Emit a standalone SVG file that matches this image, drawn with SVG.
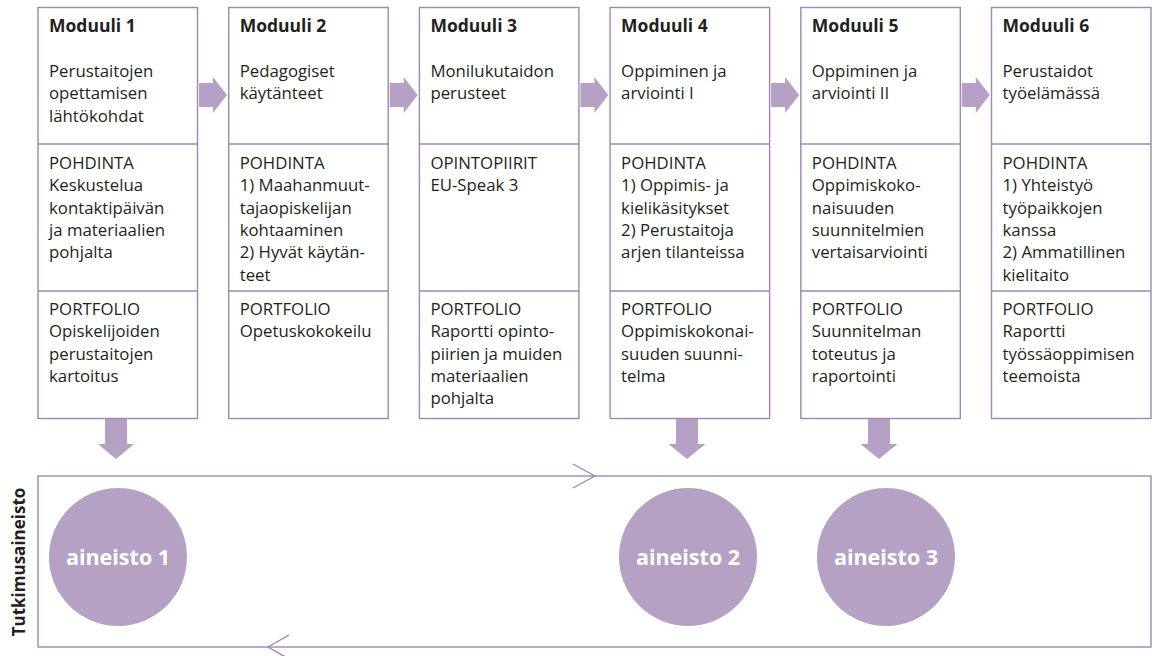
<svg xmlns="http://www.w3.org/2000/svg" width="1154" height="656" viewBox="0 0 1154 656">
<style>
.box{fill:#fff;stroke:#9d87b5;stroke-width:1.4}
.div{stroke:#9d87b5;stroke-width:1.4}
.t{font-family:"Open Sans","Liberation Sans",sans-serif;font-size:16.8px;fill:#231f20}
.b{font-weight:bold;font-size:17.5px}
.arr{fill:#b4a1c4}
.circ{fill:#b4a1c4}
.ct{font-family:"Open Sans","Liberation Sans",sans-serif;font-weight:bold;font-size:21.5px;fill:#fff;text-anchor:middle}
.ln{fill:none;stroke:#9d87b5;stroke-width:1.4}
</style>
<rect width="1154" height="656" fill="#fff"/>

<g id="research-frame">
  <rect class="box" x="38" y="476" width="1113" height="171"/>
  <text class="t" style="font-weight:bold;font-size:17px" text-anchor="middle" transform="translate(24.5,562) rotate(-90)">Tutkimusaineisto</text>
</g>

<g id="connectors">
  <!-- horizontal arrows between modules -->
  <path class="arr" d="M199 83H213V77L227 95L213 113V107H199Z"/>
  <path class="arr" d="M389.7 83H403.7V77L417.7 95L403.7 113V107H389.7Z"/>
  <path class="arr" d="M580.4 83H594.4V77L608.4 95L594.4 113V107H580.4Z"/>
  <path class="arr" d="M771.1 83H785.1V77L799.1 95L785.1 113V107H771.1Z"/>
  <path class="arr" d="M961.8 83H975.8V77L989.8 95L975.8 113V107H961.8Z"/>
  <!-- down arrows -->
  <path class="arr" d="M105 419H127V444H134L116 459L98 444H105Z"/>
  <path class="arr" d="M676 419H698V444H705.5L687 459L668.5 444H676Z"/>
  <path class="arr" d="M868 419H890V444H897.5L879 459L860.5 444H868Z"/>
  <!-- loop chevrons -->
  <path class="ln" d="M573 464L595 476L573 488"/>
  <path class="ln" d="M289 635L268 647L289 659"/>
</g>

<g id="aineisto1">
  <circle class="circ" cx="118" cy="557" r="69"/>
  <text class="ct" x="118" y="564.5">aineisto 1</text>
</g>
<g id="aineisto2">
  <circle class="circ" cx="688" cy="557" r="69"/>
  <text class="ct" x="688" y="564.5">aineisto 2</text>
</g>
<g id="aineisto3">
  <circle class="circ" cx="886" cy="557" r="69"/>
  <text class="ct" x="886" y="564.5">aineisto 3</text>
</g>

<g id="moduuli1">
  <rect class="box" x="38" y="7.5" width="159.5" height="411"/>
  <line class="div" x1="38" y1="144" x2="197.5" y2="144"/>
  <line class="div" x1="38" y1="291" x2="197.5" y2="291"/>
  <text class="t b" x="49" y="31.5">Moduuli 1</text>
  <text class="t" x="49" y="77">Perustaitojen</text>
  <text class="t" x="49" y="99.3">opettamisen</text>
  <text class="t" x="49" y="121.6">lähtökohdat</text>
  <text class="t" x="49" y="169">POHDINTA</text>
  <text class="t" x="49" y="191.3">Keskustelua</text>
  <text class="t" x="49" y="213.6">kontaktipäivän</text>
  <text class="t" x="49" y="235.9">ja materiaalien</text>
  <text class="t" x="49" y="258.2">pohjalta</text>
  <text class="t" x="49" y="315">PORTFOLIO</text>
  <text class="t" x="49" y="337.3">Opiskelijoiden</text>
  <text class="t" x="49" y="359.6">perustaitojen</text>
  <text class="t" x="49" y="381.9">kartoitus</text>
</g>

<g id="moduuli2">
  <rect class="box" x="228.7" y="7.5" width="159.5" height="411"/>
  <line class="div" x1="228.7" y1="144" x2="388.2" y2="144"/>
  <line class="div" x1="228.7" y1="291" x2="388.2" y2="291"/>
  <text class="t b" x="239.7" y="31.5">Moduuli 2</text>
  <text class="t" x="239.7" y="77">Pedagogiset</text>
  <text class="t" x="239.7" y="99.3">käytänteet</text>
  <text class="t" x="239.7" y="169">POHDINTA</text>
  <text class="t" x="239.7" y="191.3">1) Maahanmuut-</text>
  <text class="t" x="239.7" y="213.6">tajaopiskelijan</text>
  <text class="t" x="239.7" y="235.9">kohtaaminen</text>
  <text class="t" x="239.7" y="258.2">2) Hyvät käytän-</text>
  <text class="t" x="239.7" y="280.5">teet</text>
  <text class="t" x="239.7" y="315">PORTFOLIO</text>
  <text class="t" x="239.7" y="337.3">Opetuskokokeilu</text>
</g>

<g id="moduuli3">
  <rect class="box" x="419.4" y="7.5" width="159.5" height="411"/>
  <line class="div" x1="419.4" y1="144" x2="578.9" y2="144"/>
  <line class="div" x1="419.4" y1="291" x2="578.9" y2="291"/>
  <text class="t b" x="430.4" y="31.5">Moduuli 3</text>
  <text class="t" x="430.4" y="77">Monilukutaidon</text>
  <text class="t" x="430.4" y="99.3">perusteet</text>
  <text class="t" x="430.4" y="169">OPINTOPIIRIT</text>
  <text class="t" x="430.4" y="191.3">EU-Speak 3</text>
  <text class="t" x="430.4" y="315">PORTFOLIO</text>
  <text class="t" x="430.4" y="337.3">Raportti opinto-</text>
  <text class="t" x="430.4" y="359.6">piirien ja muiden</text>
  <text class="t" x="430.4" y="381.9">materiaalien</text>
  <text class="t" x="430.4" y="404.2">pohjalta</text>
</g>

<g id="moduuli4">
  <rect class="box" x="610.1" y="7.5" width="159.5" height="411"/>
  <line class="div" x1="610.1" y1="144" x2="769.6" y2="144"/>
  <line class="div" x1="610.1" y1="291" x2="769.6" y2="291"/>
  <text class="t b" x="621.1" y="31.5">Moduuli 4</text>
  <text class="t" x="621.1" y="77">Oppiminen ja</text>
  <text class="t" x="621.1" y="99.3">arviointi I</text>
  <text class="t" x="621.1" y="169">POHDINTA</text>
  <text class="t" x="621.1" y="191.3">1) Oppimis- ja</text>
  <text class="t" x="621.1" y="213.6">kielikäsitykset</text>
  <text class="t" x="621.1" y="235.9">2) Perustaitoja</text>
  <text class="t" x="621.1" y="258.2">arjen tilanteissa</text>
  <text class="t" x="621.1" y="315">PORTFOLIO</text>
  <text class="t" x="621.1" y="337.3">Oppimiskokonai-</text>
  <text class="t" x="621.1" y="359.6">suuden suunni-</text>
  <text class="t" x="621.1" y="381.9">telma</text>
</g>

<g id="moduuli5">
  <rect class="box" x="800.8" y="7.5" width="159.5" height="411"/>
  <line class="div" x1="800.8" y1="144" x2="960.3" y2="144"/>
  <line class="div" x1="800.8" y1="291" x2="960.3" y2="291"/>
  <text class="t b" x="811.8" y="31.5">Moduuli 5</text>
  <text class="t" x="811.8" y="77">Oppiminen ja</text>
  <text class="t" x="811.8" y="99.3">arviointi II</text>
  <text class="t" x="811.8" y="169">POHDINTA</text>
  <text class="t" x="811.8" y="191.3">Oppimiskoko-</text>
  <text class="t" x="811.8" y="213.6">naisuuden</text>
  <text class="t" x="811.8" y="235.9">suunnitelmien</text>
  <text class="t" x="811.8" y="258.2">vertaisarviointi</text>
  <text class="t" x="811.8" y="315">PORTFOLIO</text>
  <text class="t" x="811.8" y="337.3">Suunnitelman</text>
  <text class="t" x="811.8" y="359.6">toteutus ja</text>
  <text class="t" x="811.8" y="381.9">raportointi</text>
</g>

<g id="moduuli6">
  <rect class="box" x="991.5" y="7.5" width="159.5" height="411"/>
  <line class="div" x1="991.5" y1="144" x2="1151" y2="144"/>
  <line class="div" x1="991.5" y1="291" x2="1151" y2="291"/>
  <text class="t b" x="1002.5" y="31.5">Moduuli 6</text>
  <text class="t" x="1002.5" y="77">Perustaidot</text>
  <text class="t" x="1002.5" y="99.3">työelämässä</text>
  <text class="t" x="1002.5" y="169">POHDINTA</text>
  <text class="t" x="1002.5" y="191.3">1) Yhteistyö</text>
  <text class="t" x="1002.5" y="213.6">työpaikkojen</text>
  <text class="t" x="1002.5" y="235.9">kanssa</text>
  <text class="t" x="1002.5" y="258.2">2) Ammatillinen</text>
  <text class="t" x="1002.5" y="280.5">kielitaito</text>
  <text class="t" x="1002.5" y="315">PORTFOLIO</text>
  <text class="t" x="1002.5" y="337.3">Raportti</text>
  <text class="t" x="1002.5" y="359.6">työssäoppimisen</text>
  <text class="t" x="1002.5" y="381.9">teemoista</text>
</g>
</svg>
